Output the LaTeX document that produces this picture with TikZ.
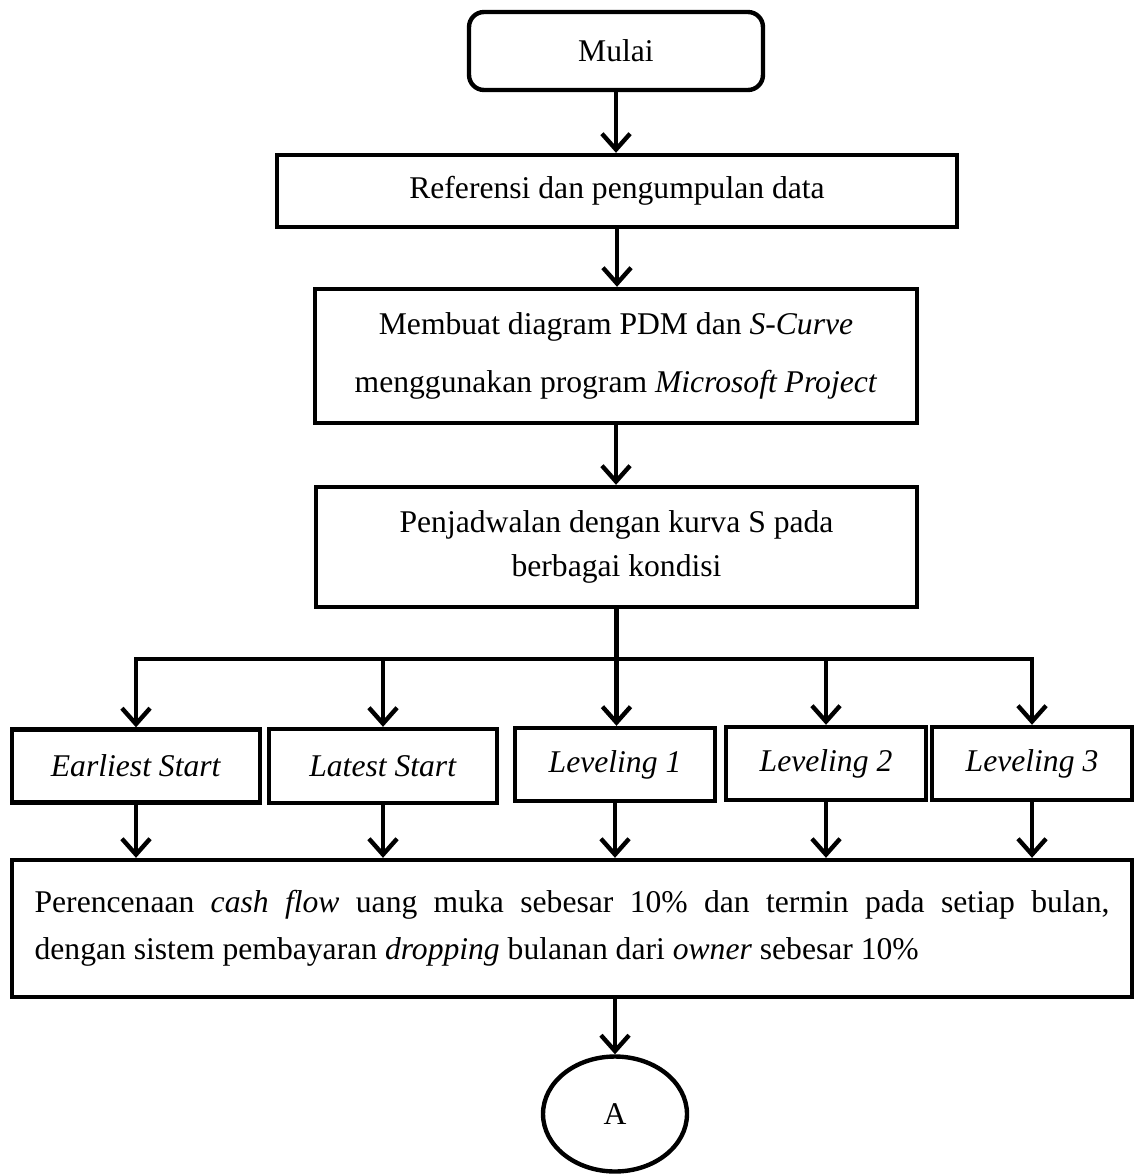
\documentclass[tikz,border=0pt]{standalone}
\usepackage{fontspec}
\setmainfont{Liberation Serif}
\usetikzlibrary{shapes.geometric,arrows.meta}

\begin{document}
\begin{tikzpicture}[x=0.02cm,y=-0.02cm,
  box/.style={draw,line width=2.5pt,inner sep=2pt,align=center,
    font=\fontsize{18}{22}\selectfont},
  arr/.style={line width=2.5pt,-{Straight Barb[length=9pt,width=16pt]}}]
\useasboundingbox (0,0) rectangle (1135,1176);

% Main steps
\node[box,rounded corners=0.3cm,minimum width=5.88cm,minimum height=1.56cm] (mulai) at (616,51) {Mulai};
\node[box,minimum width=13.6cm,minimum height=1.44cm] (ref) at (617,191) {Referensi dan pengumpulan data};
\node[box,minimum width=12.04cm,minimum height=2.68cm,font=\fontsize{18}{33}\selectfont] (pdm) at (616,356)
  {Membuat diagram PDM dan \textit{S-Curve}\\menggunakan program \textit{Microsoft Project}};
\node[box,minimum width=12.02cm,minimum height=2.4cm,font=\fontsize{18}{25.5}\selectfont] (jadwal) at (616.5,547)
  {Penjadwalan dengan kurva S pada\\berbagai kondisi};

% Schedule variants
\node[box,minimum width=4.96cm,minimum height=1.46cm] (es) at (136,766) {\textit{Earliest Start}};
\node[box,minimum width=4.56cm,minimum height=1.48cm] (ls) at (383,766) {\textit{Latest Start}};
\node[box,minimum width=4cm,minimum height=1.46cm] (lv1) at (615,764.5) {\textit{Leveling 1}};
\node[box,minimum width=4cm,minimum height=1.46cm] (lv2) at (826,763.5) {\textit{Leveling 2}};
\node[box,minimum width=4cm,minimum height=1.46cm] (lv3) at (1032,763.5) {\textit{Leveling 3}};

% Cash flow and connector
\node[box,minimum width=22.4cm,minimum height=2.74cm,text width=21.5cm,align=justify,
  font=\fontsize{18}{26.6}\selectfont] (cf) at (572,928.5)
  {Perencenaan \textit{cash flow} uang muka sebesar 10\% dan termin pada setiap bulan,\linebreak
   dengan sistem pembayaran \textit{dropping} bulanan dari \textit{owner} sebesar 10\%};
\node[box,ellipse,minimum width=2.88cm,minimum height=2.3cm] (A) at (615,1114) {A};

% Arrows
\coordinate (bus) at (615,659);
\draw[arr] (mulai.south) -- (mulai.south |- ref.north);
\draw[arr] (ref.south) -- (ref.south |- pdm.north);
\draw[arr] (pdm.south) -- (pdm.south |- jadwal.north);
\draw[arr] (jadwal.south) -- (jadwal.south |- lv1.north);
\draw[arr] (bus) -| (es.north);
\draw[arr] (bus) -| (lv3.north);
\draw[arr] (ls.north |- bus) -- (ls.north);
\draw[arr] (lv2.north |- bus) -- (lv2.north);
\foreach \n in {es,ls,lv1,lv2,lv3}
  \draw[arr] (\n.south) -- (\n.south |- cf.north);
\draw[arr] (A.north |- cf.south) -- (A.north);

\end{tikzpicture}
\end{document}
